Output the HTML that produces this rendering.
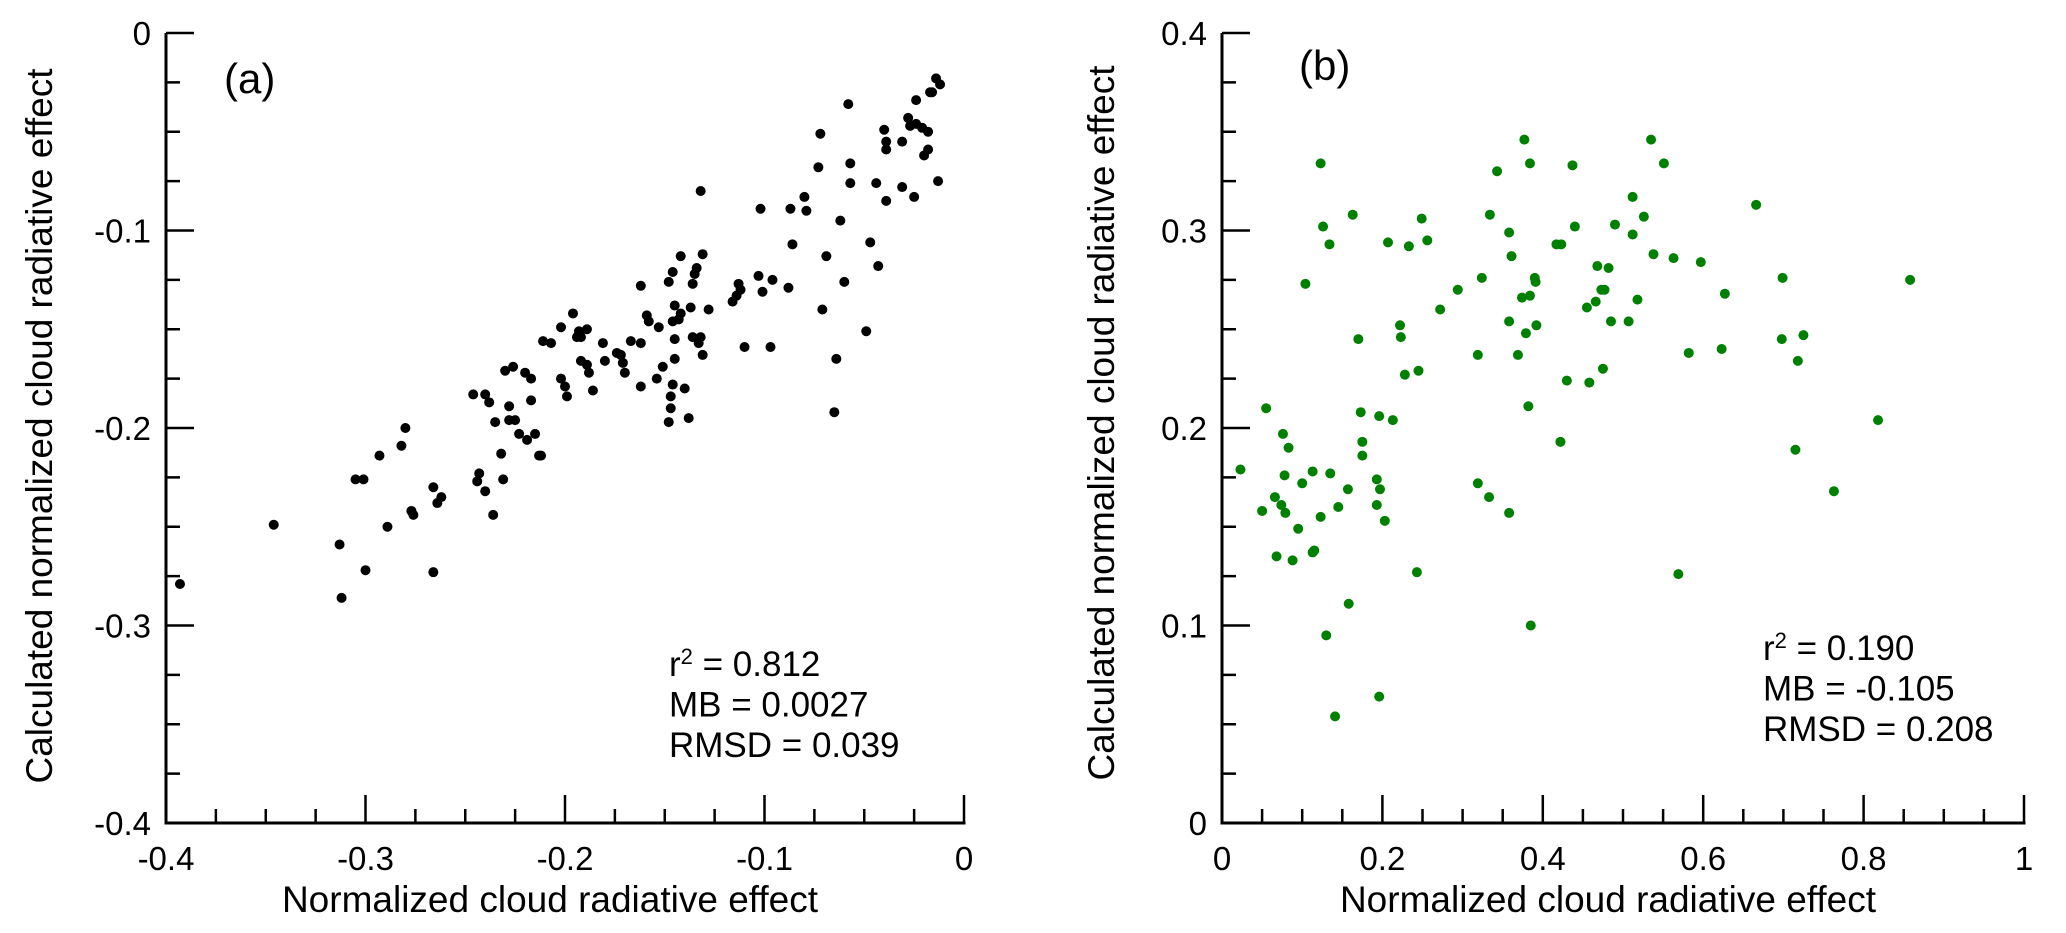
<!DOCTYPE html>
<html><head><meta charset="utf-8"><style>
html,body{margin:0;padding:0;background:#fff;}
svg{display:block;font-family:"Liberation Sans",Arial,sans-serif;}
</style></head><body>
<svg id="chart" width="2066" height="933" viewBox="0 0 2066 933" xmlns="http://www.w3.org/2000/svg">
<g id="pa"></g>
<g id="pb"></g>
</svg>
<script>
const aX=[-0.393,-0.346,-0.313,-0.312,-0.300,-0.305,-0.301,-0.293,-0.289,-0.282,-0.280,-0.277,-0.276,-0.266,-0.266,-0.264,-0.262,-0.246,-0.240,-0.238,-0.244,-0.243,-0.240,-0.236,-0.235,-0.232,-0.231,-0.230,-0.226,-0.228,-0.228,-0.225,-0.223,-0.220,-0.219,-0.217,-0.217,-0.215,-0.213,-0.212,-0.211,-0.207,-0.202,-0.196,-0.202,-0.200,-0.199,-0.194,-0.193,-0.189,-0.192,-0.192,-0.189,-0.188,-0.186,-0.181,-0.180,-0.174,-0.172,-0.171,-0.170,-0.167,-0.162,-0.162,-0.162,-0.159,-0.158,-0.153,-0.154,-0.151,-0.148,-0.146,-0.147,-0.148,-0.147,-0.146,-0.145,-0.146,-0.145,-0.145,-0.142,-0.143,-0.142,-0.140,-0.138,-0.137,-0.136,-0.135,-0.134,-0.136,-0.133,-0.132,-0.131,-0.131,-0.132,-0.128,-0.116,-0.114,-0.113,-0.112,-0.110,-0.103,-0.101,-0.102,-0.097,-0.096,-0.088,-0.087,-0.086,-0.080,-0.079,-0.073,-0.072,-0.071,-0.069,-0.065,-0.064,-0.062,-0.060,-0.058,-0.057,-0.057,-0.049,-0.047,-0.044,-0.043,-0.040,-0.039,-0.039,-0.039,-0.031,-0.031,-0.028,-0.027,-0.024,-0.025,-0.024,-0.021,-0.020,-0.018,-0.018,-0.017,-0.016,-0.014,-0.012,-0.013];
const aY=[-0.279,-0.249,-0.259,-0.286,-0.272,-0.226,-0.226,-0.214,-0.250,-0.209,-0.200,-0.242,-0.244,-0.230,-0.273,-0.238,-0.235,-0.183,-0.183,-0.187,-0.227,-0.223,-0.232,-0.244,-0.197,-0.213,-0.226,-0.171,-0.169,-0.189,-0.196,-0.196,-0.203,-0.172,-0.206,-0.175,-0.186,-0.203,-0.214,-0.214,-0.156,-0.157,-0.149,-0.142,-0.175,-0.179,-0.184,-0.154,-0.151,-0.150,-0.154,-0.166,-0.168,-0.172,-0.181,-0.157,-0.166,-0.162,-0.163,-0.167,-0.172,-0.156,-0.157,-0.179,-0.128,-0.143,-0.146,-0.149,-0.175,-0.169,-0.126,-0.121,-0.190,-0.197,-0.184,-0.178,-0.138,-0.146,-0.155,-0.165,-0.142,-0.145,-0.113,-0.180,-0.195,-0.139,-0.127,-0.122,-0.119,-0.154,-0.157,-0.154,-0.163,-0.112,-0.080,-0.140,-0.136,-0.133,-0.127,-0.130,-0.159,-0.123,-0.131,-0.089,-0.159,-0.125,-0.129,-0.089,-0.107,-0.083,-0.090,-0.068,-0.051,-0.140,-0.113,-0.192,-0.165,-0.095,-0.126,-0.036,-0.066,-0.076,-0.151,-0.106,-0.076,-0.118,-0.049,-0.055,-0.059,-0.085,-0.055,-0.078,-0.043,-0.047,-0.046,-0.083,-0.034,-0.048,-0.062,-0.050,-0.059,-0.030,-0.030,-0.023,-0.026,-0.075];
const bX=[0.023,0.050,0.055,0.066,0.068,0.074,0.076,0.078,0.079,0.083,0.088,0.095,0.100,0.104,0.113,0.113,0.115,0.123,0.123,0.126,0.130,0.134,0.135,0.141,0.145,0.157,0.158,0.163,0.170,0.173,0.175,0.175,0.193,0.193,0.196,0.197,0.196,0.203,0.207,0.213,0.222,0.223,0.228,0.233,0.243,0.245,0.249,0.256,0.272,0.294,0.319,0.319,0.324,0.333,0.334,0.343,0.358,0.358,0.358,0.361,0.369,0.374,0.377,0.379,0.382,0.384,0.384,0.385,0.390,0.391,0.392,0.417,0.423,0.422,0.430,0.437,0.440,0.455,0.458,0.466,0.468,0.473,0.477,0.475,0.482,0.485,0.490,0.507,0.512,0.512,0.518,0.526,0.535,0.538,0.551,0.563,0.569,0.582,0.597,0.623,0.627,0.666,0.698,0.699,0.715,0.718,0.725,0.763,0.818,0.858];
const bY=[0.179,0.158,0.210,0.165,0.135,0.161,0.197,0.176,0.157,0.190,0.133,0.149,0.172,0.273,0.178,0.137,0.138,0.334,0.155,0.302,0.095,0.293,0.177,0.054,0.160,0.169,0.111,0.308,0.245,0.208,0.193,0.186,0.174,0.161,0.206,0.169,0.064,0.153,0.294,0.204,0.252,0.246,0.227,0.292,0.127,0.229,0.306,0.295,0.260,0.270,0.237,0.172,0.276,0.165,0.308,0.330,0.299,0.254,0.157,0.287,0.237,0.266,0.346,0.248,0.211,0.334,0.267,0.100,0.276,0.274,0.252,0.293,0.293,0.193,0.224,0.333,0.302,0.261,0.223,0.264,0.282,0.270,0.270,0.230,0.281,0.254,0.303,0.254,0.317,0.298,0.265,0.307,0.346,0.288,0.334,0.286,0.126,0.238,0.284,0.240,0.268,0.313,0.245,0.276,0.189,0.234,0.247,0.168,0.204,0.275];
const aXTicks=["-0.4","-0.3","-0.2","-0.1","0"];
const aYTicks=["-0.4","-0.3","-0.2","-0.1","0"];
const bXTicks=["0","0.2","0.4","0.6","0.8","1"];
const bYTicks=["0","0.1","0.2","0.3","0.4"];
const NS="http://www.w3.org/2000/svg";
function mk(parent,tag,attrs,text){const e=document.createElementNS(NS,tag);for(const k in attrs)e.setAttribute(k,attrs[k]);if(text!==undefined)e.textContent=text;parent.appendChild(e);return e;}
function panel(g,cfg){
  const sx=v=>cfg.x0+(v-cfg.xmin)/(cfg.xmax-cfg.xmin)*(cfg.x1-cfg.x0);
  const sy=v=>cfg.y1-(v-cfg.ymin)/(cfg.ymax-cfg.ymin)*(cfg.y1-cfg.y0);
  const ax=mk(g,'g',{});
  
  
  mk(ax,'line',{x1:cfg.x0,y1:cfg.y0,x2:cfg.x0,y2:cfg.y1+1.5,stroke:'#000','stroke-width':3});
  mk(ax,'line',{x1:cfg.x0-1.5,y1:cfg.y1,x2:cfg.x1+1.5,y2:cfg.y1,stroke:'#000','stroke-width':3});
  const nx=Math.round((cfg.xmax-cfg.xmin)/cfg.xminor);
  for(let i=0;i<=nx;i++){const v=cfg.xmin+i*cfg.xminor;const major=i%cfg.xmaj===0;const px=sx(v);
    mk(ax,'line',{x1:px,y1:cfg.y1,x2:px,y2:cfg.y1-(major?28:14),stroke:'#000','stroke-width':2.5});}
  const ny=Math.round((cfg.ymax-cfg.ymin)/cfg.yminor);
  for(let i=0;i<=ny;i++){const v=cfg.ymin+i*cfg.yminor;const major=i%cfg.ymaj===0;const py=sy(v);
    mk(ax,'line',{x1:cfg.x0,y1:py,x2:cfg.x0+(major?28:14),y2:py,stroke:'#000','stroke-width':2.5});}
  cfg.xt.forEach(t=>{const e=mk(g,'text',{x:sx(parseFloat(t)),y:cfg.y1+47,'font-size':33,'text-anchor':'middle'},t);
    
    });
  cfg.yt.forEach(t=>{const e=mk(g,'text',{x:cfg.x0-15,y:sy(parseFloat(t))+12,'font-size':33,'text-anchor':'end'},t);
    
    });
  const xt=mk(g,'text',{x:cfg.xtx,y:912,'font-size':37,'text-anchor':'middle'},'Normalized cloud radiative effect');
  
  
  const yt=mk(g,'text',{x:0,y:0,'font-size':37,'text-anchor':'middle',transform:`translate(${cfg.ytx},${cfg.yty}) rotate(-90)`},'Calculated normalized cloud radiative effect');
  
  
  const lab=mk(g,'text',{x:cfg.labx,y:cfg.laby,'font-size':42},cfg.lab);
  
  
  const st=mk(g,'g',{'font-size':35});
  
  
  const t1=mk(st,'text',{x:cfg.stx,y:cfg.sty});
  mk(t1,'tspan',{},'r');
  mk(t1,'tspan',{dy:-12,'font-size':22},'2');
  mk(t1,'tspan',{dy:12},' = '+cfg.stats[0]);
  mk(st,'text',{x:cfg.stx,y:cfg.sty+40.5},'MB = '+cfg.stats[1]);
  mk(st,'text',{x:cfg.stx,y:cfg.sty+81},'RMSD = '+cfg.stats[2]);
  const pts=mk(g,'g',{fill:cfg.color});
  
  
  cfg.xs.forEach((v,i)=>{const c=mk(pts,'circle',{cx:sx(v),cy:sy(cfg.ys[i]),r:5});
    
    });
}
panel(document.getElementById('pa'),{x0:166,x1:964,y0:33,y1:823,xmin:-0.4,xmax:0,ymin:-0.4,ymax:0,xminor:0.025,xmaj:4,yminor:0.025,ymaj:4,
  xt:aXTicks,yt:aYTicks,xtx:550,ytx:52,yty:426,lab:'(a)',labx:224,laby:93,stx:669,sty:676,stats:['0.812','0.0027','0.039'],xs:aX,ys:aY,color:'#000'});
panel(document.getElementById('pb'),{x0:1222,x1:2024,y0:33,y1:823,xmin:0,xmax:1,ymin:0,ymax:0.4,xminor:0.05,xmaj:4,yminor:0.025,ymaj:4,
  xt:bXTicks,yt:bYTicks,xtx:1608,ytx:1114,yty:423,lab:'(b)',labx:1299,laby:80,stx:1763,sty:660,stats:['0.190','-0.105','0.208'],xs:bX,ys:bY,color:'#008000'});
</script>
</body></html>
